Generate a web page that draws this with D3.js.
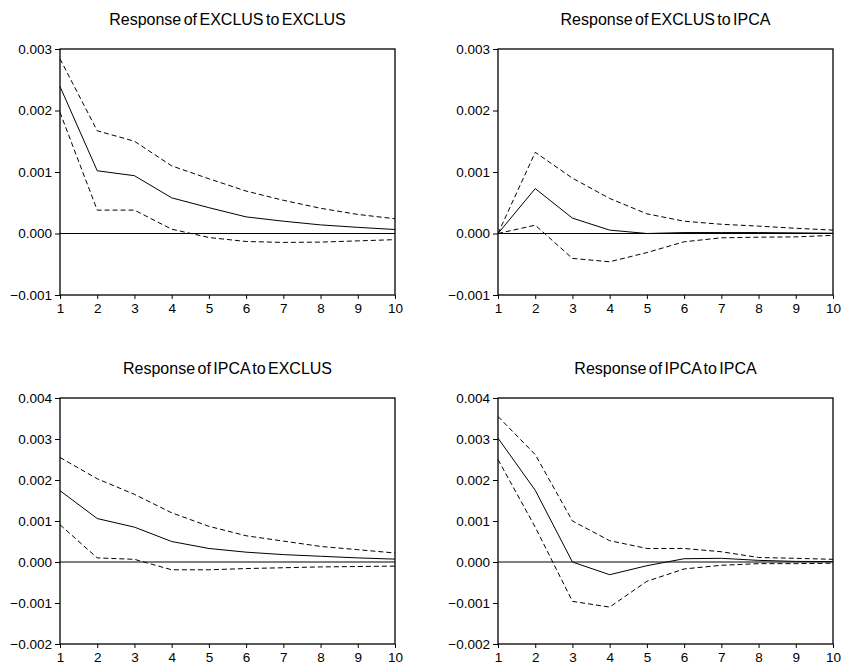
<!DOCTYPE html>
<html>
<head>
<meta charset="utf-8">
<script src="https://cdn.jsdelivr.net/npm/d3@7"></script>
<style>
  body { margin: 0; background: #fff; }
  svg { display: block; font-family: "Liberation Sans", Arial, sans-serif; }
  .tick text { font-size: 13.5px; fill: #000; }
  .title { font-size: 16px; word-spacing: -2px; }
</style>
</head>
<body>
<div id="chart"></div>
<script>
// Impulse response periods
const periods = [1, 2, 3, 4, 5, 6, 7, 8, 9, 10];

// Response of EXCLUS to EXCLUS
const exToExMid   = [0.00239, 0.00102, 0.00094, 0.00058, 0.00042, 0.00027, 0.00020, 0.00014, 0.00010, 0.000065];
const exToExUpper = [0.00284, 0.00167, 0.00150, 0.00110, 0.00089, 0.00069, 0.00054, 0.00041, 0.00031, 0.00024];
const exToExLower = [0.00197, 0.00038, 0.00038, 0.00007, -0.000065, -0.00013, -0.000145, -0.00014, -0.00012, -0.0001];

// Response of EXCLUS to IPCA
const exToIpMid   = [0, 0.00073, 0.00025, 0.000055, 0, 0.000015, 0.000015, 0.000015, 0.00001, 0.000005];
const exToIpUpper = [0, 0.00132, 0.00090, 0.00057, 0.00032, 0.00020, 0.00015, 0.00012, 0.000085, 0.000055];
const exToIpLower = [0, 0.000135, -0.000405, -0.00046, -0.00031, -0.000135, -0.00007, -0.00006, -0.000055, -0.00003];

// Response of IPCA to EXCLUS
const ipToExMid   = [0.00174, 0.00106, 0.00085, 0.00050, 0.00033, 0.00024, 0.00018, 0.00014, 0.00010, 0.00007];
const ipToExUpper = [0.00255, 0.00203, 0.00165, 0.00120, 0.00087, 0.00064, 0.00051, 0.00038, 0.00030, 0.00022];
const ipToExLower = [0.00091, 0.00010, 0.000065, -0.00019, -0.00019, -0.00016, -0.00014, -0.00012, -0.00011, -0.0001];

// Response of IPCA to IPCA
const ipToIpMid   = [0.00302, 0.00175, 0.0, -0.00031, -0.00009, 0.00008, 0.00009, 0.00004, 0.000015, 0.00001];
const ipToIpUpper = [0.00355, 0.00262, 0.00100, 0.00052, 0.00033, 0.00033, 0.00025, 0.00011, 0.00009, 0.000065];
const ipToIpLower = [0.00250, 0.00085, -0.00096, -0.00110, -0.00047, -0.00017, -0.00008, -0.00004, -0.00004, -0.00003];

const titles = [
  "Response of EXCLUS to EXCLUS",
  "Response of EXCLUS to IPCA",
  "Response of IPCA to EXCLUS",
  "Response of IPCA to IPCA"
];
const yTicksTop = [-0.001, 0, 0.001, 0.002, 0.003];
const yTicksBottom = [-0.002, -0.001, 0, 0.001, 0.002, 0.003, 0.004];

const panels = [
  { title: titles[0], mid: exToExMid, upper: exToExUpper, lower: exToExLower, yDomain: [-0.001, 0.003], yTicks: yTicksTop, x: 60, y: 49 },
  { title: titles[1], mid: exToIpMid, upper: exToIpUpper, lower: exToIpLower, yDomain: [-0.001, 0.003], yTicks: yTicksTop, x: 498, y: 49 },
  { title: titles[2], mid: ipToExMid, upper: ipToExUpper, lower: ipToExLower, yDomain: [-0.002, 0.004], yTicks: yTicksBottom, x: 60, y: 398 },
  { title: titles[3], mid: ipToIpMid, upper: ipToIpUpper, lower: ipToIpLower, yDomain: [-0.002, 0.004], yTicks: yTicksBottom, x: 498, y: 398 }
];

const width = 843, height = 667;
const plotW = 335, plotH = 246;

const svg = d3.select('#chart').append('svg')
  .attr('width', width)
  .attr('height', height);

panels.forEach(p => {
  const g = svg.append('g').attr('transform', `translate(${p.x},${p.y})`);

  const scaleX = d3.scaleLinear([1, 10], [0, plotW]);
  const scaleY = d3.scaleLinear(p.yDomain, [plotH, 0]);

  // Title
  g.append('text')
    .classed('title', true)
    .attr('x', plotW / 2)
    .attr('y', -24)
    .attr('text-anchor', 'middle')
    .text(p.title);

  // Axes
  g.append('g')
    .attr('transform', `translate(0,${plotH})`)
    .call(d3.axisBottom(scaleX).tickValues(periods).tickFormat(d3.format('d')).tickSize(4).tickSizeOuter(0).tickPadding(4))
    .call(a => a.select('.domain').remove());

  g.append('g')
    .call(d3.axisLeft(scaleY).tickValues(p.yTicks).tickFormat(d3.format('.3f')).tickSize(5).tickSizeOuter(0).tickPadding(3))
    .call(a => a.select('.domain').remove());

  // Zero line
  g.append('line')
    .attr('x1', 0).attr('x2', plotW)
    .attr('y1', scaleY(0)).attr('y2', scaleY(0))
    .attr('stroke', '#000')
    .attr('stroke-width', 1);

  const lineGen = d3.line()
    .x((d, i) => scaleX(periods[i]))
    .y(d => scaleY(d));

  // Confidence bands
  [p.upper, p.lower].forEach(band => {
    g.append('path')
      .attr('d', lineGen(band))
      .attr('fill', 'none')
      .attr('stroke', '#000')
      .attr('stroke-width', 1)
      .attr('stroke-dasharray', '5,3');
  });

  // Point response
  g.append('path')
    .attr('d', lineGen(p.mid))
    .attr('fill', 'none')
    .attr('stroke', '#000')
    .attr('stroke-width', 1);

  // Frame
  g.append('rect')
    .attr('x', 0).attr('y', 0)
    .attr('width', plotW).attr('height', plotH)
    .attr('fill', 'none')
    .attr('stroke', '#000')
    .attr('stroke-width', 1.3);
});
</script>
</body>
</html>
